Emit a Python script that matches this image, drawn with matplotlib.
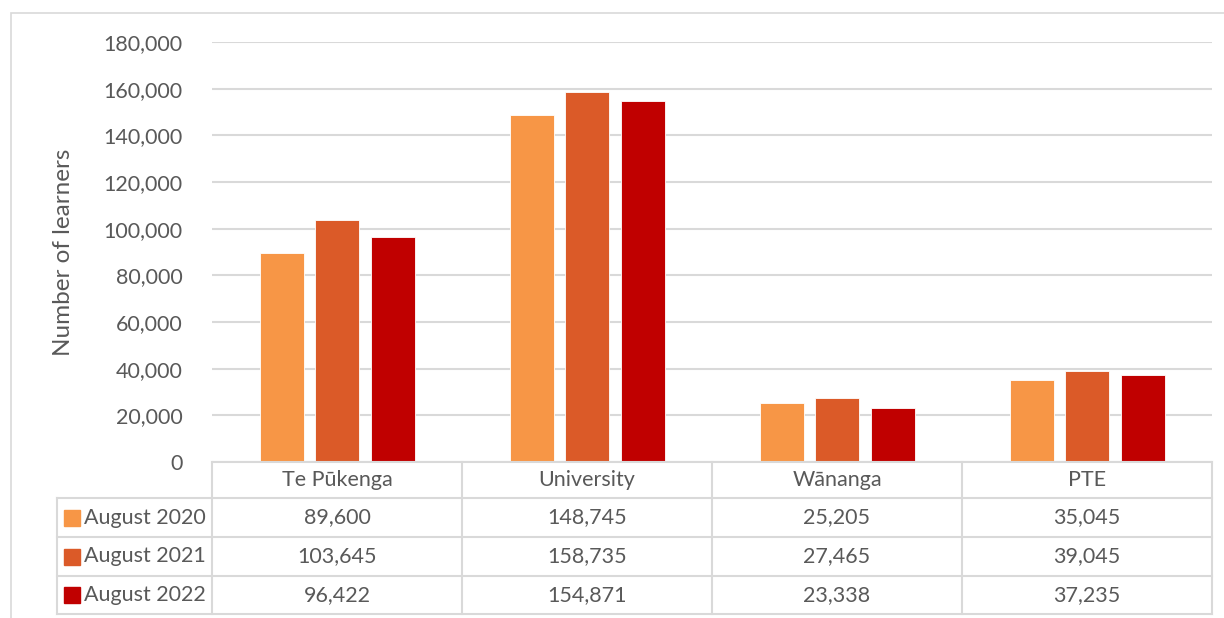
import numpy as np
import matplotlib.pyplot as plt

plt.rcParams['font.family'] = ['Lato', 'DejaVu Sans']

categories = ['Te Pūkenga', 'University', 'Wānanga', 'PTE']
series = ['August 2020', 'August 2021', 'August 2022']
aug2020 = [89600, 148745, 25205, 35045]
aug2021 = [103645, 158735, 27465, 39045]
aug2022 = [96422, 154871, 23338, 37235]
colors = ['#F79646', '#DB5A28', '#C00000']

txt = '#595959'
grid = '#D9D9D9'
W, H = 1224, 618
fs = 15.5

fig = plt.figure(figsize=(12.24, 6.18), dpi=100)
# outer chart border
fig.add_artist(plt.Rectangle((11 / W, -0.1), 1.2, 1 - 13 / H + 0.1, transform=fig.transFigure,
                             fill=False, edgecolor=grid, lw=1.2))

ax = fig.add_axes([212 / W, 1 - 462 / H, 1000 / W, 420 / H])
x = np.arange(len(categories))
bw, step = 0.176, 0.222
for i, (vals, c) in enumerate(zip([aug2020, aug2021, aug2022], colors)):
    ax.bar(x + (i - 1) * step, vals, bw, color=c, edgecolor='white', linewidth=0.6, zorder=3)

ax.set_xlim(-0.5, 3.5)
ax.set_ylim(0, 180000)
ax.set_yticks(np.arange(0, 180001, 20000))
ax.set_yticklabels([f'{v:,}' for v in range(0, 180001, 20000)])
ax.yaxis.grid(True, color=grid, lw=1.5, zorder=0)
ax.set_xticks([])
for s in ax.spines.values():
    s.set_visible(False)
ax.tick_params(axis='y', length=0, pad=21, labelsize=fs, labelcolor=txt)
fig.text(63 / W, 1 - 252 / H, 'Number of learners', rotation=90, ha='center', va='center',
         fontsize=17.5, color=txt)

# data table below the plot
tab = fig.add_axes([212 / W, 1 - 614 / H, 1000 / W, 152 / H])
tab.set_xlim(-0.5, 3.5)
tab.set_ylim(0, 152)
tab.axis('off')
left = -0.5 - 155 / 250
rows = [0, 38, 77, 116, 152]
lk = dict(color=grid, lw=1.5, clip_on=False)
# horizontal lines
tab.plot([-0.5, 3.5], [rows[4], rows[4]], **lk)
for yy in rows[:4]:
    tab.plot([left, 3.5], [yy, yy], **lk)
# vertical lines
for xx in np.arange(-0.5, 3.51, 1):
    tab.plot([xx, xx], [0, 152], **lk)
tab.plot([left, left], [0, rows[3]], **lk)

for j, cat in enumerate(categories):
    tab.text(j, (rows[3] + rows[4]) / 2, cat, ha='center', va='center', fontsize=fs, color=txt)
for i, (name, vals, c) in enumerate(zip(series, [aug2020, aug2021, aug2022], colors)):
    yc = (rows[3 - i] + rows[2 - i]) / 2
    tab.plot(left + 15 / 250, yc, 's', ms=11, color=c, clip_on=False)
    tab.text(left + 27 / 250, yc, name, ha='left', va='center', fontsize=fs, color=txt)
    for j, v in enumerate(vals):
        tab.text(j, yc, f'{v:,}', ha='center', va='center', fontsize=fs, color=txt)

fig.savefig('out.png', dpi=100)
